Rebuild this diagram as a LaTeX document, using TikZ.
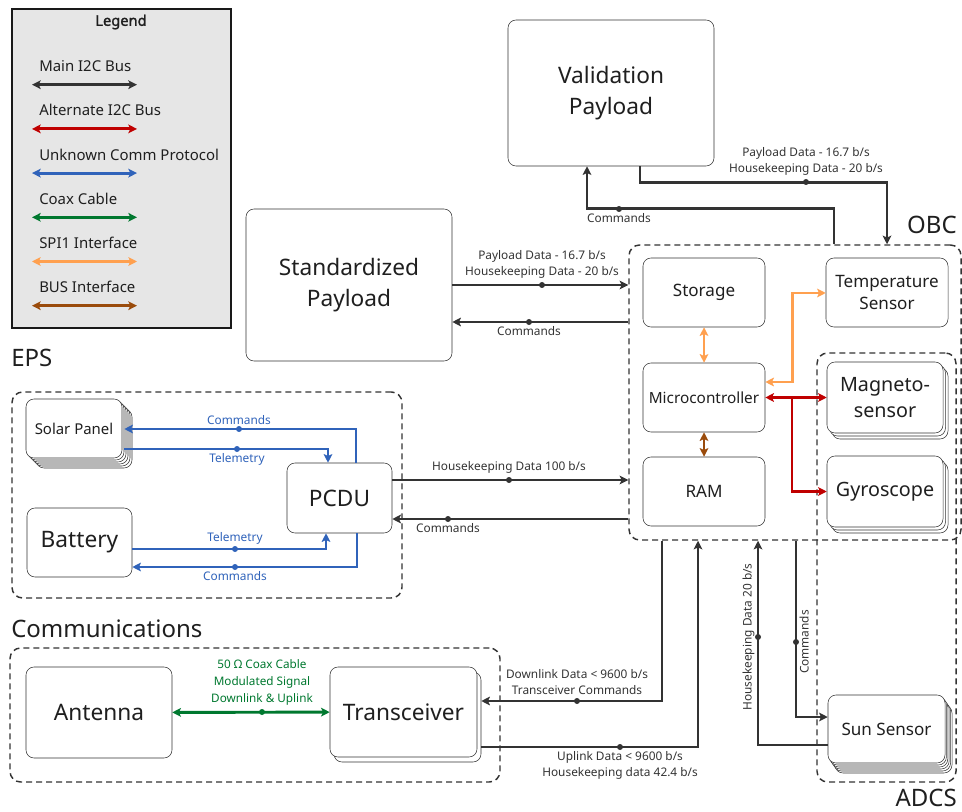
\documentclass[tikz,border=0pt]{standalone}
\usepackage{fontspec}
\setmainfont{Noto Sans}
\newfontfamily\heavyface[FakeBold=1.6]{Noto Sans}
\usepackage{tikz}
\usetikzlibrary{arrows.meta,positioning,calc}
\definecolor{ink}{HTML}{333333}
\definecolor{txt}{HTML}{1F1F1F}
\definecolor{alti}{HTML}{C00000}
\definecolor{unkn}{HTML}{3063BA}
\definecolor{coaxc}{HTML}{00782F}
\definecolor{spic}{HTML}{FFA04F}
\definecolor{busc}{HTML}{9A4B0B}
\definecolor{legbg}{HTML}{E6E6E6}
\tikzset{
  sz/.style 2 args={minimum width=#1*0.75pt,minimum height=#2*0.75pt},
  block/.style={draw=ink,rounded corners=6pt,fill=white,align=center,inner sep=0pt,text=txt},
  grp/.style={draw=ink,line width=1.1pt,dash pattern=on 4.5pt off 3pt,rounded corners=8pt},
  sect/.style={font=\fontsize{18}{21}\selectfont,text=txt,inner sep=0pt},
  huge/.style={font=\fontsize{17}{23}\selectfont},
  large/.style={font=\fontsize{14.8}{19.5}\selectfont},
  small/.style={font=\fontsize{12.8}{16.5}\selectfont},
  lbl/.style={font=\fontsize{8.9}{12}\selectfont,text=ink,align=center,inner sep=1pt},
  legtxt/.style={font=\fontsize{11.2}{12}\selectfont,text=txt,inner sep=0pt},
  dot/.style={circle,fill=#1,inner sep=0pt,minimum size=4.5pt},
  dot/.default=ink,
  link/.style={line width=2.2pt,draw=ink},
  fwd/.style={-{Stealth[length=6.5pt,width=6.5pt,inset=1.5pt]}},
  twoway/.style={{Stealth[length=6.5pt,width=6.5pt,inset=1.5pt]}-{Stealth[length=6.5pt,width=6.5pt,inset=1.5pt]}}
}

\begin{document}
\begin{tikzpicture}[x=0.75pt,y=-0.75pt]
 \useasboundingbox (0,0) rectangle (962,812);

 % legend
 \node[draw=black!90,line width=2.2pt,fill=legbg,sz={219}{319}] (legend) at (121.5,168.5) {};
 \node[font=\heavyface\fontsize{11}{12}\selectfont,text=txt] (legtitle) at (121,22) {Legend};
 \foreach \txt/\clr [count=\i] in {Main I2C Bus/ink,Alternate I2C Bus/alti,Unknown Comm Protocol/unkn,Coax Cable/coaxc,SPI1 Interface/spic,BUS Interface/busc}{
   \node[legtxt,anchor=west] (leg\i) at (39,22+44.2*\i) {\txt};
   \coordinate (la\i) at (32,40.5+44.2*\i);
   \coordinate (lb\i) at (137,40.5+44.2*\i);
   \draw[link,draw=\clr,twoway] (la\i) -- (lb\i);
 }

 % subsystem groups
 \node[grp,sz={332}{295}] (obc) at (795,392.5) {};
 \node[grp,sz={139}{429}] (adcs) at (886.5,567.5) {};
 \node[grp,sz={390}{206}] (eps) at (207,495) {};
 \node[grp,sz={490}{134}] (comms) at (255,715) {};
 \node[sect,anchor=east] (obclbl) at (957,225) {OBC};
 \node[sect,anchor=east] (adcslbl) at (957,798) {ADCS};
 \node[sect,anchor=west] (epslbl) at (11,358) {EPS};
 \node[sect,anchor=west] (commslbl) at (11,629) {Communications};

 % payloads
 \node[block,huge,sz={206}{146}] (val) at (611,93) {Validation\\Payload};
 \node[block,huge,sz={206}{152}] (std) at (349,285) {Standardized\\Payload};

 % OBC
 \node[block,small,sz={122}{69}] (storage) at (704,292.5) {Storage};
 \node[block,small,sz={122}{69}] (temp) at (887,292.5) {Temperature\\Sensor};
 \node[block,font=\fontsize{11.5}{13}\selectfont,sz={122}{69}] (mcu) at (704,397.5) {Microcontroller};
 \node[block,small,sz={122}{69}] (ram) at (704,491.5) {RAM};

 % ADCS
 \foreach \k in {2,1}{
   \node[block,sz={116}{71}] (magneto\k) at (885+2.5*\k,397.5+3*\k) {};
   \node[block,sz={116}{71}] (gyro\k) at (885+2.5*\k,491.5+3*\k) {};
 }
 \node[block,large,sz={116}{71}] (magneto) at (885,397.5) {Magneto-\\sensor};
 \node[block,large,sz={116}{71}] (gyro) at (885,491.5) {Gyroscope};
 \foreach \k in {5,...,1}
   \node[block,sz={117}{68}] (sun\k) at (886.5+1.4*\k,729+2*\k) {};
 \node[block,small,sz={117}{68}] (sun) at (886.5,729) {Sun Sensor};

 % EPS
 \foreach \k in {5,...,1}
   \node[block,sz={96}{59}] (solar\k) at (74+2*\k,428.5+2*\k) {};
 \node[block,font=\fontsize{11.2}{13}\selectfont,sz={96}{59}] (solar) at (74,428.5) {Solar Panel};
 \node[block,huge,sz={105}{69}] (battery) at (79.5,542.5) {Battery};
 \node[block,huge,sz={105}{70}] (pcdu) at (339.5,498) {PCDU};

 % communications
 \node[block,huge,sz={146}{91}] (antenna) at (99,712.5) {Antenna};
 \node[block,sz={147}{90}] (xcvr1) at (407.5,717) {};
 \node[block,huge,sz={147}{90}] (xcvr) at (403.5,712) {Transceiver};

 % payload links
 \draw[link,fwd] (std.east) -- (obc.west |- std.east);
 \node[dot] (d1) at (542,285) {};
 \node[lbl,above=1pt of d1] (l1) {Payload Data - 16.7 b/s\\Housekeeping Data - 20 b/s};
 \draw[link,fwd] (obc.west |- 0,322) -- (std.east |- 0,322);
 \node[dot] (d2) at (529,322) {};
 \node[lbl,below=0pt of d2] (l2) {Commands};
 \draw[link,fwd] (val.south -| 640,0) -- ++(0,16) -| (obc.north -| 887,0);
 \node[dot] (d3) at (806,182) {};
 \node[lbl,above=1pt of d3] (l3) {Payload Data - 16.7 b/s\\Housekeeping Data - 20 b/s};
 \draw[link,fwd] (obc.north -| 834,0) -- ++(0,-36) -| (val.south -| 587,0);
 \node[dot] (d4) at (619,209) {};
 \node[lbl,below=0pt of d4] (l4) {Commands};

 % EPS to OBC
 \draw[link,fwd] (pcdu.east |- 0,480) -- (obc.west |- 0,480);
 \node[dot] (d5) at (509,480) {};
 \node[lbl,above=1pt of d5] (l5) {Housekeeping Data 100 b/s};
 \draw[link,fwd] (obc.west |- 0,519) -- (pcdu.east |- 0,519);
 \node[dot] (d6) at (448,519) {};
 \node[lbl,below=0pt of d6] (l6) {Commands};

 % radio links
 \draw[link,fwd] (obc.south -| 662,0) |- (xcvr1.east |- 0,701);
 \node[dot] (d7) at (577,701) {};
 \node[lbl,above=1pt of d7] (l7) {Downlink Data < 9600 b/s\\Transceiver Commands};
 \draw[link,fwd] (xcvr1.east |- 0,747) -| (obc.south -| 698,0);
 \node[dot] (d8) at (620,747) {};
 \node[lbl,below=0pt of d8] (l8) {Uplink Data < 9600 b/s\\Housekeeping data 42.4 b/s};

 % sun sensor
 \draw[link,fwd] (sun.west |- 0,745) -| (obc.south -| 758,0);
 \node[dot] (d9) at (758,637) {};
 \node[lbl,rotate=90,anchor=south] (l9) at ([xshift=-1.5pt]d9) {Housekeeping Data 20 b/s};
 \draw[link,fwd] (obc.south -| 796,0) |- (sun.west |- 0,717);
 \node[dot] (d10) at (796,642) {};
 \node[lbl,rotate=90,anchor=north] (l10) at ([xshift=1.5pt]d10) {Commands};

 % inside the OBC
 \draw[link,draw=spic,twoway] (storage) -- (mcu);
 \draw[link,draw=busc,twoway] (mcu) -- (ram);
 \draw[link,draw=spic,twoway] (mcu.east |- 0,382) -- ++(27,0) |- (temp.west |- 0,293);
 \draw[link,draw=alti,twoway] (mcu) -- (magneto);
 \draw[link,draw=alti,fwd] (mcu.east -| 792,0) |- (gyro.west);

 % power bus
 \draw[link,draw=unkn,fwd] (pcdu.north -| 356,0) |- (solar1.east |- 0,429);
 \node[dot=unkn] (d11) at (239,429) {};
 \node[lbl,text=unkn,above=0pt of d11] (l11) {Commands};
 \draw[link,draw=unkn,fwd] (solar1.east |- 0,449) -| (pcdu.north -| 328,0);
 \node[dot=unkn] (d12) at (237,449) {};
 \node[lbl,text=unkn,below=0pt of d12] (l12) {Telemetry};
 \draw[link,draw=unkn,fwd] (battery.east |- 0,549) -| (pcdu.south -| 326,0);
 \node[dot=unkn] (d13) at (235,549) {};
 \node[lbl,text=unkn,above=0pt of d13] (l13) {Telemetry};
 \draw[link,draw=unkn,fwd] (pcdu.south -| 357,0) |- (battery.east |- 0,567);
 \node[dot=unkn] (d14) at (235,567) {};
 \node[lbl,text=unkn,below=0pt of d14] (l14) {Commands};

 % coax
 \draw[link,draw=coaxc,twoway] (antenna) -- (xcvr);
 \node[dot=coaxc] (d15) at (262,712) {};
 \node[lbl,text=coaxc,font=\fontsize{8.8}{13}\selectfont,above=1pt of d15] (l15) {50 Ω Coax Cable\\Modulated Signal\\Downlink \& Uplink};
\end{tikzpicture}
\end{document}
